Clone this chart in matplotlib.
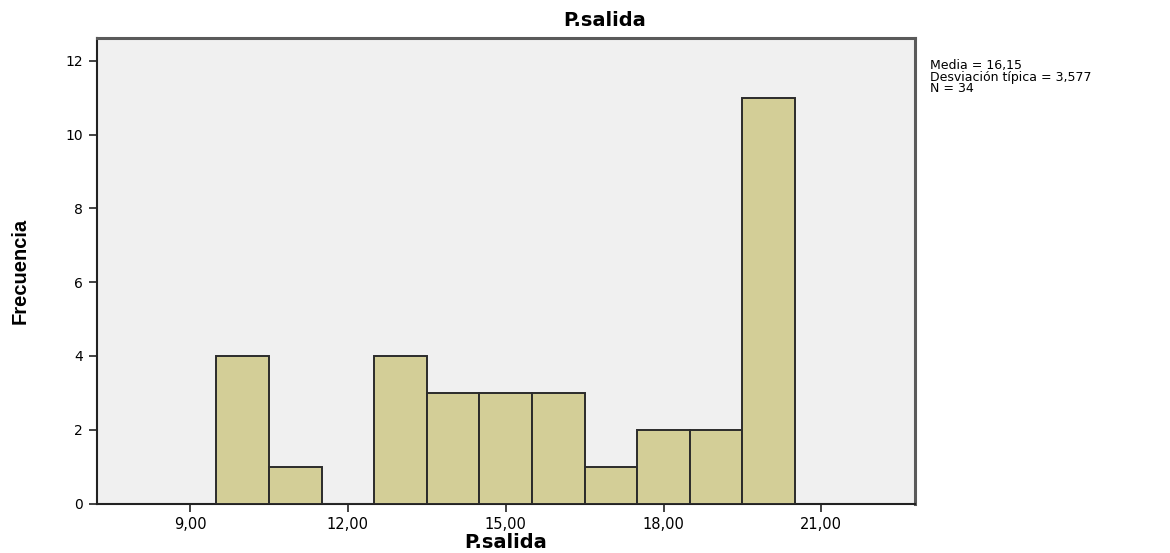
import numpy as np
import matplotlib.pyplot as plt

# histogram of P.salida (SPSS style)
valores = [10, 11, 12, 13, 14, 15, 16, 17, 18, 19, 20]
frecuencias = [4, 1, 0, 4, 3, 3, 3, 1, 2, 2, 11]
xticks = [9, 12, 15, 18, 21]
xticklabels = ['9,00', '12,00', '15,00', '18,00', '21,00']
yticks = [0, 2, 4, 6, 8, 10, 12]
stats_lines = ['Media = 16,15', 'Desviación típica = 3,577', 'N = 34']

W, H = 1170, 553
fig = plt.figure(figsize=(W / 100, H / 100), dpi=100)
fig.patch.set_facecolor('white')

ax = fig.add_axes([97 / W, 1 - 503.5 / H, (915 - 97) / W, (503.5 - 37.5) / H])
ax.set_facecolor('#f0f0f0')

ax.bar(valores, frecuencias, width=1.0, color='#d3ce97', edgecolor='#2b2b2b',
       linewidth=1.4, zorder=3)

ax.set_xlim(7.23, 22.78)
ax.set_ylim(0, 12.63)
ax.set_xticks(xticks)
ax.set_xticklabels(xticklabels, fontsize=10.5, family='DejaVu Sans')
ax.set_yticks(yticks)
ax.set_yticklabels([str(v) for v in yticks], fontsize=10, family='DejaVu Sans')
ax.tick_params(axis='both', length=6, width=1.2, color='#222222', pad=4)

for side in ['left', 'bottom']:
    ax.spines[side].set_color('#222222')
    ax.spines[side].set_linewidth(1.5)
for side in ['top', 'right']:
    ax.spines[side].set_color('#5a5a5a')
    ax.spines[side].set_linewidth(2.2)

# titles
fig.text(605 / W, 1 - 21 / H, 'P.salida', ha='center', va='center',
         fontsize=14, fontweight='bold', family='DejaVu Sans')
fig.text(506 / W, 1 / H, 'P.salida', ha='center', va='bottom',
         fontsize=14, fontweight='bold', family='DejaVu Sans')
fig.text(20 / W, 1 - 271 / H, 'Frecuencia', ha='center', va='center', rotation=90,
         fontsize=14.5, fontweight='bold',
         family=['Liberation Sans Narrow', 'Liberation Sans', 'DejaVu Sans'])

# stats box
ys = [65, 77, 89]
for txt, y in zip(stats_lines, ys):
    fig.text(930 / W, 1 - y / H, txt, ha='left', va='center',
             fontsize=9, family='DejaVu Sans')

fig.savefig('out.png', dpi=100)
